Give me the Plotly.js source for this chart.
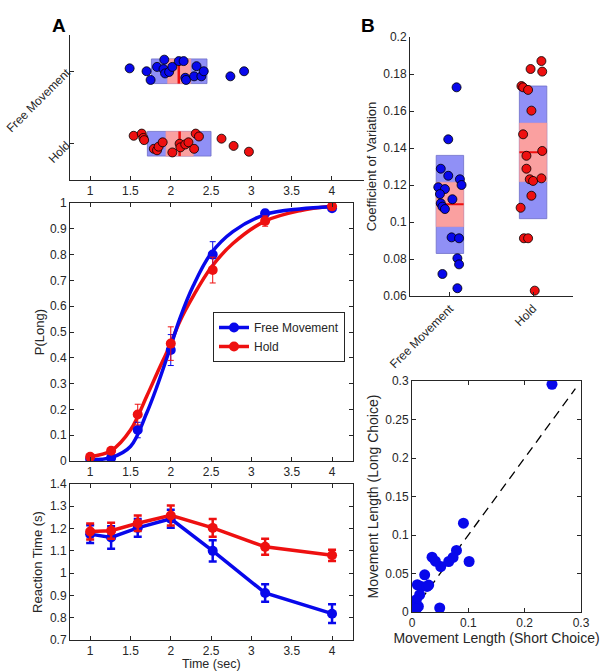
<!DOCTYPE html>
<html>
<head>
<meta charset="utf-8">
<script src="https://cdn.plot.ly/plotly-3.0.1.min.js"></script>
<style>html,body{margin:0;padding:0;background:#fff}#chart{width:606px;height:672px}</style>
</head>
<body>
<div id="chart"></div>
<script>
// ---------- Panel A top: strip plot of indifference times ----------
const groupNames = ['Free Movement', 'Hold'];
const groupPos = [2, 1];
const stripFreeX = [1.49, 1.70, 1.75, 1.83, 1.92, 1.91, 1.93, 1.98, 2.02, 2.10, 2.16, 2.18, 2.19, 2.29, 2.32, 2.38, 2.41, 2.74, 2.91];
const stripFreeY = [2.04, 2.00, 1.88, 2.06, 2.16, 2.03, 1.97, 1.99, 2.06, 2.14, 2.14, 1.91, 1.88, 1.93, 2.07, 1.93, 2.00, 1.93, 2.00];
const stripHoldX = [1.54, 1.64, 1.66, 1.67, 1.79, 1.83, 1.85, 1.90, 2.02, 2.11, 2.12, 2.18, 2.22, 2.29, 2.31, 2.35, 2.63, 2.78, 2.97];
const stripHoldY = [1.11, 1.14, 1.08, 1.05, 0.93, 0.91, 0.96, 1.02, 0.88, 1.00, 0.95, 0.99, 1.02, 0.93, 1.14, 1.10, 1.07, 0.97, 0.89];
const stripMean = [2.10, 2.11];
const stripSdLow = [1.76, 1.71];
const stripSdHigh = [2.45, 2.50];
const stripCiLow = [1.96, 1.94];
const stripCiHigh = [2.25, 2.28];

// ---------- Panel A middle: psychometric ----------
const timeX = [1, 1.26, 1.59, 2, 2.52, 3.17, 4];
const pLongFree = [0.008, 0.012, 0.12, 0.43, 0.80, 0.96, 0.98];
const pLongFreeErr = [0.005, 0.008, 0.03, 0.06, 0.05, 0.015, 0.005];
const pLongHold = [0.016, 0.04, 0.18, 0.455, 0.74, 0.93, 0.987];
const pLongHoldErr = [0.005, 0.01, 0.04, 0.065, 0.05, 0.02, 0.005];
const fitX = [1, 1.26, 1.5, 1.7, 1.83, 2, 2.11, 2.28, 2.5, 2.77, 3.17, 3.6, 4];
const fitFree = [0.005, 0.013, 0.056, 0.185, 0.29, 0.445, 0.55, 0.68, 0.805, 0.889, 0.955, 0.977, 0.985];
const fitHold = [0.017, 0.04, 0.12, 0.25, 0.34, 0.456, 0.54, 0.64, 0.75, 0.843, 0.93, 0.97, 0.987];

// ---------- Panel A bottom: reaction time ----------
const rtFree = [1.175, 1.16, 1.203, 1.244, 1.10, 0.911, 0.818];
const rtFreeErr = [0.04, 0.05, 0.04, 0.04, 0.048, 0.039, 0.042];
const rtHold = [1.187, 1.19, 1.224, 1.259, 1.203, 1.118, 1.08];
const rtHoldErr = [0.036, 0.036, 0.035, 0.045, 0.04, 0.036, 0.025];

// ---------- Panel B top: coefficient of variation ----------
const cvPos = [1, 2];
const cvFreeX = [0.08, -0.02, -0.11, -0.02, 0.12, 0.14, -0.14, -0.06, -0.12, 0.03, -0.11, -0.09, -0.06, 0.02, 0.11, 0.09, 0.11, -0.09, 0.09];
const cvFreeY = [0.1728, 0.1447, 0.1288, 0.125, 0.1231, 0.12, 0.1188, 0.1178, 0.1151, 0.1123, 0.1101, 0.1083, 0.107, 0.0917, 0.0912, 0.0804, 0.0771, 0.0719, 0.0642];
const cvHoldX = [0.10, -0.03, 0.11, -0.14, -0.12, -0.06, -0.02, -0.12, -0.08, 0.11, -0.08, -0.04, 0.0, 0.10, -0.02, -0.15, -0.11, -0.06, 0.02];
const cvHoldY = [0.187, 0.1827, 0.1813, 0.1735, 0.1728, 0.1714, 0.1602, 0.1474, 0.1358, 0.1384, 0.1288, 0.1231, 0.1222, 0.1236, 0.1142, 0.1077, 0.0912, 0.0912, 0.0629];
const cvMean = [0.1096, 0.1377];
const cvSdLow = [0.083, 0.1018];
const cvSdHigh = [0.136, 0.1735];
const cvCiLow = [0.0975, 0.1218];
const cvCiHigh = [0.1215, 0.1535];

// ---------- Panel B bottom: movement length ----------
const lenShort = [0.2485, 0.0913, 0.1014, 0.0789, 0.0729, 0.0652, 0.051, 0.0356, 0.0415, 0.0225, 0.0095, 0.0166, 0.0267, 0.0296, 0.0136, 0.0077, 0.0113, 0.003, 0.0492, 0.0077];
const lenLong = [0.2957, 0.1153, 0.0656, 0.0799, 0.0708, 0.0656, 0.0591, 0.0712, 0.066, 0.0483, 0.0354, 0.0332, 0.0332, 0.035, 0.0224, 0.016, 0.0073, 0.0052, 0.0052, 0.0039];
const identityLine = [0, 0.29];

// ---------- styling ----------
const BLUE = 'rgb(8,8,235)';
const RED = 'rgb(238,16,16)';
const BOXBLUE = 'rgba(125,125,245,0.85)';
const BOXRED = 'rgb(250,160,160)';
const INK = '#262626';
const FONT = 'Liberation Sans, Arial, sans-serif';
const W = 606, H = 672;
const px = (a, b) => [a / W, b / W];
const py = (top, bot) => [1 - bot / H, 1 - top / H];

const traces = [];
const stripHalf = 0.17;
// top-left boxes (horizontal bars)
traces.push({type: 'bar', orientation: 'h', xaxis: 'x', yaxis: 'y', y: groupPos,
  base: stripSdLow, x: stripSdHigh.map((v, i) => v - stripSdLow[i]), width: 2 * stripHalf,
  marker: {color: BOXBLUE, line: {color: 'rgb(110,110,200)', width: 0.8}}, showlegend: false, hoverinfo: 'skip'});
traces.push({type: 'bar', orientation: 'h', xaxis: 'x', yaxis: 'y', y: groupPos,
  base: stripCiLow, x: stripCiHigh.map((v, i) => v - stripCiLow[i]), width: 2 * stripHalf,
  marker: {color: BOXRED, line: {color: 'rgb(240,150,150)', width: 0.5}}, showlegend: false, hoverinfo: 'skip'});
groupPos.forEach((g, i) => {
  traces.push({type: 'scatter', mode: 'lines', xaxis: 'x', yaxis: 'y',
    x: [stripMean[i], stripMean[i]], y: [g - stripHalf, g + stripHalf],
    line: {color: RED, width: 2.5}, showlegend: false, hoverinfo: 'skip'});
});
traces.push({type: 'scatter', mode: 'markers', xaxis: 'x', yaxis: 'y', x: stripFreeX, y: stripFreeY,
  marker: {color: BLUE, size: 9, line: {color: '#000', width: 0.8}}, showlegend: false});
traces.push({type: 'scatter', mode: 'markers', xaxis: 'x', yaxis: 'y', x: stripHoldX, y: stripHoldY,
  marker: {color: RED, size: 9, line: {color: '#000', width: 0.8}}, showlegend: false});

// middle psychometric
traces.push({type: 'scatter', mode: 'lines', xaxis: 'x2', yaxis: 'y2', x: fitX, y: fitHold,
  line: {color: RED, width: 3.5, shape: 'spline'}, showlegend: false});
traces.push({type: 'scatter', mode: 'lines', xaxis: 'x2', yaxis: 'y2', x: fitX, y: fitFree,
  line: {color: BLUE, width: 3.5, shape: 'spline'}, showlegend: false});
traces.push({type: 'scatter', mode: 'markers', xaxis: 'x2', yaxis: 'y2', x: timeX, y: pLongFree,
  error_y: {type: 'data', array: pLongFreeErr, color: BLUE, thickness: 1, width: 3},
  marker: {color: BLUE, size: 10}, showlegend: false});
traces.push({type: 'scatter', mode: 'markers', xaxis: 'x2', yaxis: 'y2', x: timeX, y: pLongHold,
  error_y: {type: 'data', array: pLongHoldErr, color: RED, thickness: 1, width: 3},
  marker: {color: RED, size: 10}, showlegend: false});
// legend entries
traces.push({type: 'scatter', mode: 'lines+markers', xaxis: 'x2', yaxis: 'y2', x: [null], y: [null],
  name: 'Free Movement', line: {color: BLUE, width: 3.5}, marker: {color: BLUE, size: 10}});
traces.push({type: 'scatter', mode: 'lines+markers', xaxis: 'x2', yaxis: 'y2', x: [null], y: [null],
  name: 'Hold', line: {color: RED, width: 3.5}, marker: {color: RED, size: 10}});

// bottom RT
traces.push({type: 'scatter', mode: 'lines+markers', xaxis: 'x3', yaxis: 'y3', x: timeX, y: rtFree,
  error_y: {type: 'data', array: rtFreeErr, color: BLUE, thickness: 2.5, width: 4},
  line: {color: BLUE, width: 3.5}, marker: {color: BLUE, size: 10}, showlegend: false});
traces.push({type: 'scatter', mode: 'lines+markers', xaxis: 'x3', yaxis: 'y3', x: timeX, y: rtHold,
  error_y: {type: 'data', array: rtHoldErr, color: RED, thickness: 2.5, width: 4},
  line: {color: RED, width: 3.5}, marker: {color: RED, size: 10}, showlegend: false});

// CV panel
const cvHalf = 0.165;
traces.push({type: 'bar', xaxis: 'x4', yaxis: 'y4', x: cvPos,
  base: cvSdLow, y: cvSdHigh.map((v, i) => v - cvSdLow[i]), width: 2 * cvHalf,
  marker: {color: BOXBLUE, line: {color: 'rgb(110,110,200)', width: 0.8}}, showlegend: false, hoverinfo: 'skip'});
traces.push({type: 'bar', xaxis: 'x4', yaxis: 'y4', x: cvPos,
  base: cvCiLow, y: cvCiHigh.map((v, i) => v - cvCiLow[i]), width: 2 * cvHalf,
  marker: {color: BOXRED, line: {color: 'rgb(240,150,150)', width: 0.5}}, showlegend: false, hoverinfo: 'skip'});
cvPos.forEach((g, i) => {
  traces.push({type: 'scatter', mode: 'lines', xaxis: 'x4', yaxis: 'y4',
    x: [g - cvHalf, g + cvHalf], y: [cvMean[i], cvMean[i]],
    line: {color: RED, width: 2}, showlegend: false, hoverinfo: 'skip'});
});
traces.push({type: 'scatter', mode: 'markers', xaxis: 'x4', yaxis: 'y4', x: cvFreeX.map(d => cvPos[0] + d), y: cvFreeY,
  marker: {color: BLUE, size: 9, line: {color: '#000', width: 0.8}}, showlegend: false});
traces.push({type: 'scatter', mode: 'markers', xaxis: 'x4', yaxis: 'y4', x: cvHoldX.map(d => cvPos[1] + d), y: cvHoldY,
  marker: {color: RED, size: 9, line: {color: '#000', width: 0.8}}, showlegend: false});

// scatter panel
traces.push({type: 'scatter', mode: 'lines', xaxis: 'x5', yaxis: 'y5', x: identityLine, y: identityLine,
  line: {color: '#000', width: 1.3, dash: '9px,6px'}, showlegend: false});
traces.push({type: 'scatter', mode: 'markers', xaxis: 'x5', yaxis: 'y5', x: lenShort, y: lenLong,
  marker: {color: BLUE, size: 11}, showlegend: false});

const baseAxis = {showgrid: false, zeroline: false, showline: true, linecolor: INK, linewidth: 1,
  ticks: 'inside', ticklen: 4, tickcolor: INK, tickfont: {family: FONT, size: 12, color: INK}};
const boxAxis = Object.assign({}, baseAxis, {mirror: 'ticks'});
const ttl = (t, s) => ({text: t, font: {family: FONT, size: s || 13, color: INK}});

const layout = {
  width: W, height: H, margin: {l: 0, r: 0, t: 0, b: 0},
  paper_bgcolor: '#fff', plot_bgcolor: 'rgba(0,0,0,0)', barmode: 'overlay', bargap: 0,
  font: {family: FONT, color: INK},
  showlegend: true,
  legend: {x: 213 / W, y: 1 - 312 / H, xanchor: 'left', yanchor: 'top', bgcolor: '#fff',
    bordercolor: INK, borderwidth: 1, font: {family: FONT, size: 12, color: INK},
    tracegroupgap: 0, itemwidth: 30},
  xaxis: Object.assign({}, baseAxis, {domain: px(70, 364), range: [0.75, 4.398], anchor: 'y',
    tickvals: [1, 1.5, 2, 2.5, 3, 3.5, 4]}),
  yaxis: Object.assign({}, baseAxis, {domain: py(35, 180), range: [0.5, 2.5], anchor: 'x',
    tickvals: groupPos, ticktext: groupNames, tickangle: -45}),
  xaxis2: Object.assign({}, boxAxis, {domain: px(70, 353), range: [0.75, 4.26], anchor: 'y2',
    tickvals: [1, 1.5, 2, 2.5, 3, 3.5, 4]}),
  yaxis2: Object.assign({}, boxAxis, {domain: py(203, 461), range: [0, 1], anchor: 'x2', dtick: 0.1,
    title: Object.assign(ttl('P(Long)'), {standoff: 2})}),
  xaxis3: Object.assign({}, boxAxis, {domain: px(70, 353), range: [0.75, 4.26], anchor: 'y3',
    tickvals: [1, 1.5, 2, 2.5, 3, 3.5, 4]}),
  yaxis3: Object.assign({}, boxAxis, {domain: py(484, 640), range: [0.7, 1.4], anchor: 'x3', dtick: 0.1,
    title: Object.assign(ttl('Reaction Time (s)'), {standoff: 4})}),
  xaxis4: Object.assign({}, baseAxis, {domain: px(410, 573), range: [0.52, 2.48], anchor: 'y4',
    tickvals: cvPos, ticktext: groupNames, tickangle: -45}),
  yaxis4: Object.assign({}, baseAxis, {domain: py(37, 296), range: [0.06, 0.2], anchor: 'x4', dtick: 0.02,
    tickformat: '.2~f', title: Object.assign(ttl('Coefficient of Variation'), {standoff: 3})}),
  xaxis5: Object.assign({}, boxAxis, {domain: px(412, 581), range: [0, 0.3], anchor: 'y5', dtick: 0.1,
    tickformat: '.1~f', title: Object.assign(ttl('Movement Length (Short Choice)', 14), {standoff: 0})}),
  yaxis5: Object.assign({}, boxAxis, {domain: py(381, 612), range: [0, 0.3], anchor: 'x5', dtick: 0.05,
    tickformat: '.2~f', title: Object.assign(ttl('Movement Length (Long Choice)', 14), {standoff: 3})}),
  annotations: [
    {text: '<b>A</b>', xref: 'paper', yref: 'paper', x: 50 / W, y: 1 - 13 / H, showarrow: false,
      font: {family: FONT, size: 19, color: '#000'}},
    {text: '<b>B</b>', xref: 'paper', yref: 'paper', x: 368 / W, y: 1 - 13 / H, showarrow: false,
      font: {family: FONT, size: 19, color: '#000'}},
    {text: 'Time (sec)', xref: 'x3 domain', yref: 'paper', x: 0.5, y: 1 - 664 / H, yanchor: 'middle',
      showarrow: false, borderpad: 0, font: {family: FONT, size: 12.5, color: INK}}
  ]
};

Plotly.newPlot('chart', traces, layout, {staticPlot: true, displayModeBar: false});
</script>
</body>
</html>
